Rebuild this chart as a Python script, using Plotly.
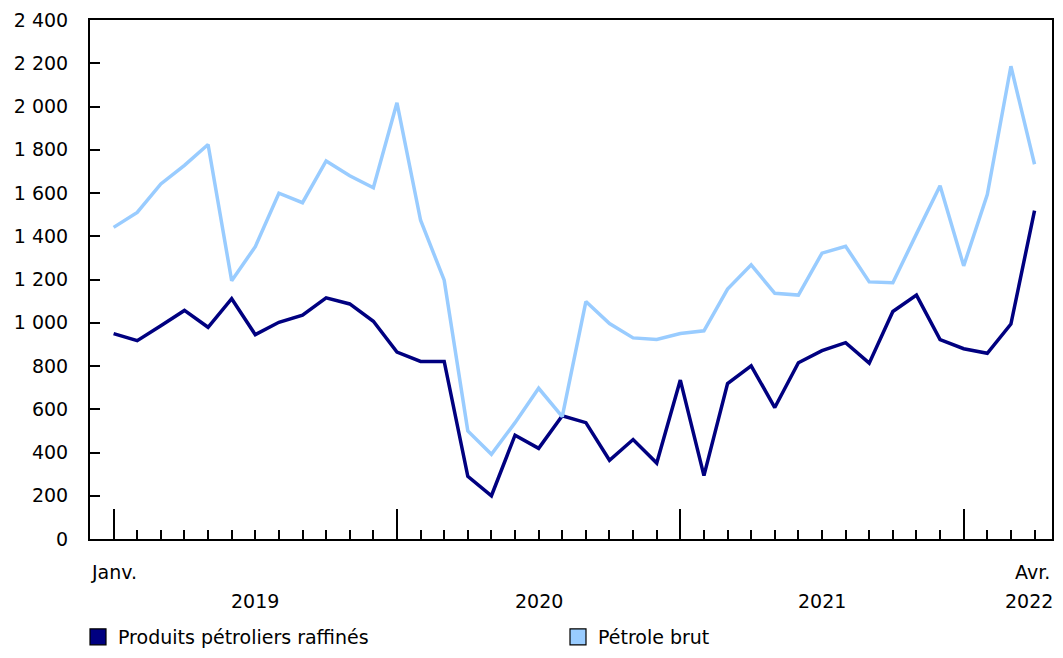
import plotly.graph_objects as go

# Months: Jan 2019 .. Apr 2022 (index 0..39)
month_idx = list(range(40))

refined = [950, 917, 986, 1057, 979, 1111, 945, 1002, 1035, 1115, 1087, 1007,
           864, 821, 821, 290, 200, 480, 419, 570, 538, 364, 460, 351,
           735, 293, 719, 801, 608, 815, 871, 908, 813, 1052, 1128, 922,
           880, 859, 994, 1519]

crude = [1441, 1510, 1642, 1728, 1824, 1194, 1352, 1599, 1555, 1748, 1680, 1624,
         2017, 1474, 1197, 500, 392, 538, 697, 566, 1098, 996, 930, 923,
         950, 963, 1156, 1268, 1136, 1128, 1322, 1354, 1189, 1185, 1411, 1634,
         1263, 1593, 2186, 1733]

series_names = ["Produits pétroliers raffinés", "Pétrole brut"]
series_colors = ["#000080", "#99CCFF"]

year_ticks = [0, 12, 24, 36]
month_labels = {0: "Janv.", 39: "Avr."}
year_labels = {6: "2019", 18: "2020", 30: "2021", 39: "2022"}
y_ticks = list(range(0, 2401, 200))

FONT = "DejaVu Sans"
FS = 19
W, H = 1047, 642

fig = go.Figure()
for name, vals, col in zip(series_names, [refined, crude], series_colors):
    fig.add_trace(go.Scatter(x=month_idx, y=vals, mode="lines",
                             line=dict(color=col, width=3.5),
                             showlegend=False, legendgroup=name,
                             hoverinfo="skip"))
for name, col in zip(series_names, series_colors):
    fig.add_trace(go.Scatter(x=[None], y=[None], mode="markers", name=name,
                             legendgroup=name,
                             marker=dict(symbol="square", size=20, color=col,
                                         line=dict(color="black", width=1.2))))

annotations = []
for xv, txt in month_labels.items():
    annotations.append(dict(x=xv, y=-0.063, xref="x", yref="paper", text=txt,
                            showarrow=False, xanchor="center", yanchor="middle",
                            xshift=(-2 if xv == 39 else 0),
                            font=dict(family=FONT, size=FS, color="black")))
for xv, txt in year_labels.items():
    annotations.append(dict(x=xv, y=-0.119, xref="x", yref="paper", text=txt,
                            showarrow=False, xanchor="center", yanchor="middle",
                            xshift=(-6 if xv == 39 else 0),
                            font=dict(family=FONT, size=FS, color="black")))

fig.update_layout(
    width=W, height=H,
    margin=dict(l=82, r=1, t=9, b=111),
    paper_bgcolor="white", plot_bgcolor="white",
    separators=", ",
    font=dict(family=FONT, size=FS, color="black"),
    showlegend=True,
    legend=dict(orientation="h", xref="container", yref="container",
                x=70 / W, xanchor="left", y=13 / H, yanchor="middle",
                entrywidth=435, font=dict(family=FONT, size=FS),
                itemsizing="trace", tracegroupgap=0),
    annotations=annotations,
    xaxis=dict(range=[-1, 39.74], showgrid=False, zeroline=False,
               showline=True, linecolor="black", linewidth=2, mirror=True,
               tickmode="array", tickvals=year_ticks, ticks="inside",
               ticklen=30, tickwidth=1.5, tickcolor="black",
               showticklabels=False,
               minor=dict(tickmode="array", tickvals=month_idx, ticks="inside",
                          ticklen=9, tickwidth=1.5, tickcolor="black",
                          showgrid=False)),
    yaxis=dict(range=[0, 2400], showgrid=False, zeroline=False,
               showline=True, linecolor="black", linewidth=2, mirror=True,
               tickmode="array", tickvals=y_ticks, tickformat=",d",
               ticks="inside", ticklen=10, tickwidth=1.5, tickcolor="black",
               ticklabelstandoff=16, ticklabeloverflow="allow"),
)

fig.write_html("out.html")
